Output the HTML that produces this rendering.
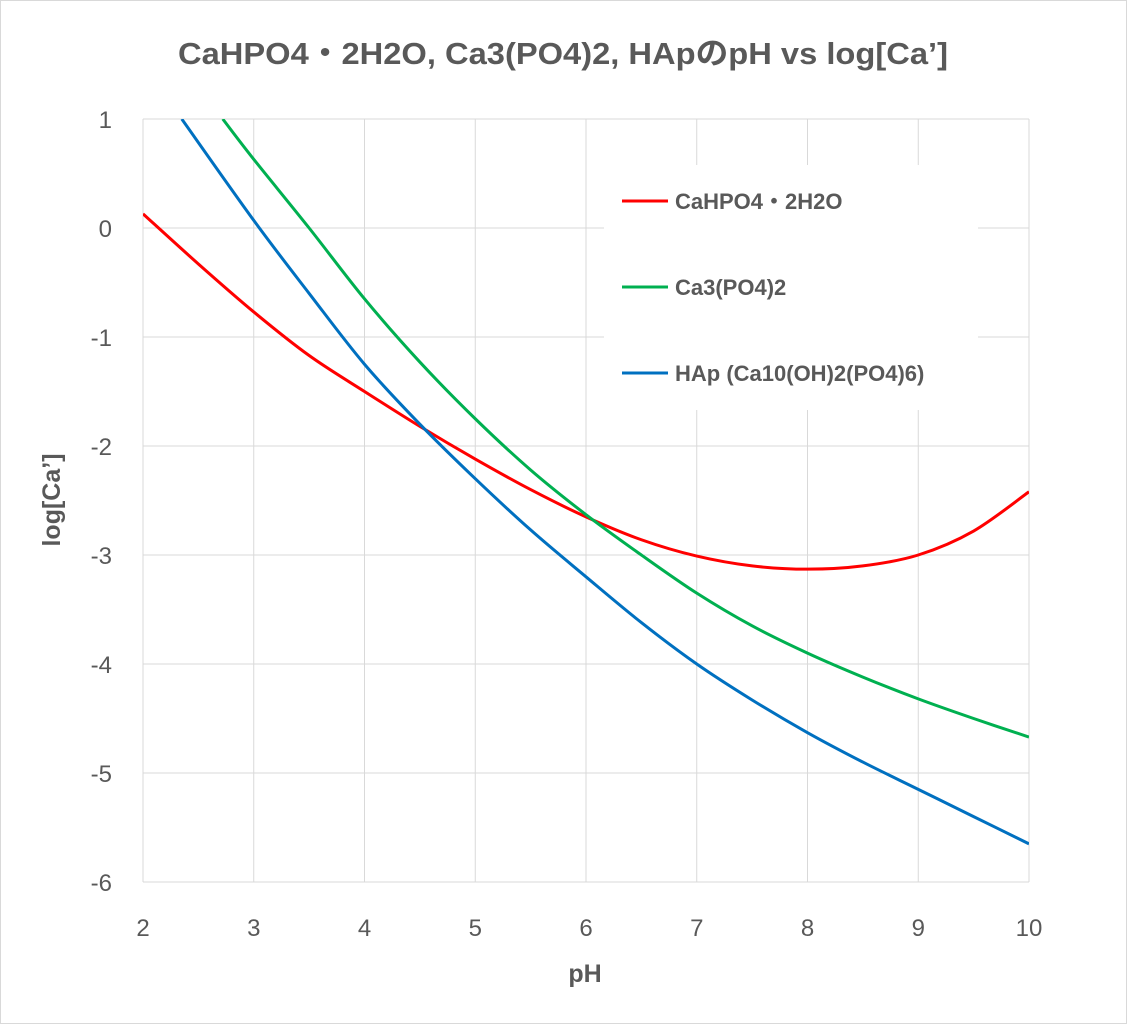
<!DOCTYPE html>
<html><head><meta charset="utf-8"><style>
body{margin:0;background:#fff;}
svg{display:block;font-family:"Liberation Sans","Noto Sans CJK JP",sans-serif;}
</style></head><body>
<svg id="c" width="1127" height="1024">
<rect x="0.5" y="0.5" width="1126" height="1023" fill="#fff" stroke="#d9d9d9"/>
<text x="563" y="64" text-anchor="middle" font-size="31" font-weight="bold" fill="#595959" textLength="770" lengthAdjust="spacingAndGlyphs">CaHPO4・2H2O, Ca3(PO4)2, HApのpH vs log[Ca’]</text>
<g id="grid"></g><g id="series"></g><g id="ticks"></g>
<text x="585" y="982" text-anchor="middle" font-size="25" font-weight="bold" fill="#595959">pH</text>
<text transform="translate(60,500) rotate(-90)" text-anchor="middle" font-size="25" font-weight="bold" fill="#595959">log[Ca’]</text>
<g id="legend"></g>
</svg>
<script>
const xTicks=[2,3,4,5,6,7,8,9,10];
const yTicks=[1,0,-1,-2,-3,-4,-5,-6];
const seriesNames=["CaHPO4・2H2O","Ca3(PO4)2","HAp (Ca10(OH)2(PO4)6)"];
const seriesColors=["#ff0000","#00b050","#0070c0"];
const redX=[2,2.5,3,3.5,4,4.5,5,5.5,6,6.5,7,7.5,8,8.5,9,9.5,10];
const redY=[0.13,-0.33,-0.77,-1.17,-1.5,-1.82,-2.12,-2.4,-2.65,-2.86,-3.01,-3.1,-3.13,-3.1,-3.0,-2.78,-2.42];
const greenX=[2.72,3,3.5,4,4.5,5,5.5,6,6.5,7,7.5,8,8.5,9,9.5,10];
const greenY=[1,0.63,0.0,-0.65,-1.23,-1.75,-2.22,-2.63,-3.0,-3.35,-3.65,-3.9,-4.12,-4.32,-4.5,-4.67];
const blueX=[2.35,3,3.5,4,4.5,5,5.5,6,6.5,7,7.5,8,8.5,9,9.5,10];
const blueY=[1,0.07,-0.6,-1.25,-1.8,-2.3,-2.77,-3.2,-3.62,-4.0,-4.33,-4.63,-4.9,-5.15,-5.4,-5.65];
const X0=143,X1=1029,Y0=119,Y1=882;
const sx=v=>X0+(v-2)/8*(X1-X0);
const sy=v=>Y0+(1-v)/7*(Y1-Y0);
const NS="http://www.w3.org/2000/svg";
function mk(t,a,p){const e=document.createElementNS(NS,t);for(const k in a)e.setAttribute(k,a[k]);p.appendChild(e);return e;}
const grid=document.getElementById('grid'),ticks=document.getElementById('ticks');
xTicks.forEach(v=>{
 const l=mk('line',{x1:sx(v),x2:sx(v),y1:Y0,y2:Y1,stroke:'#d9d9d9','stroke-width':1},grid);
 
 
 const t=mk('text',{x:sx(v),y:936,'text-anchor':'middle','font-size':24,fill:'#595959'},ticks);
 t.textContent=v;
 
 
});
yTicks.forEach(v=>{
 const l=mk('line',{x1:X0,x2:X1,y1:sy(v),y2:sy(v),stroke:'#d9d9d9','stroke-width':1},grid);
 
 
 const t=mk('text',{x:112,y:sy(v)+9,'text-anchor':'end','font-size':24,fill:'#595959'},ticks);
 t.textContent=v;
 
 
});
const ser=document.getElementById('series');
const cp=mk('clipPath',{id:'cl'},ser);mk('rect',{x:X0,y:Y0,width:X1-X0,height:Y1-Y0},cp);
function path(xs,ys){
 const p=xs.map((x,i)=>[sx(x),sy(ys[i])]);
 let d='M'+p[0][0]+','+p[0][1];
 for(let i=0;i<p.length-1;i++){
  const a=p[Math.max(0,i-1)],b=p[i],c=p[i+1],e=p[Math.min(p.length-1,i+2)];
  d+=' C'+(b[0]+(c[0]-a[0])/6)+','+(b[1]+(c[1]-a[1])/6)+' '+(c[0]-(e[0]-b[0])/6)+','+(c[1]-(e[1]-b[1])/6)+' '+c[0]+','+c[1];
 }
 return d;
}
[[redX,redY,'series-cahpo4'],[greenX,greenY,'series-ca3po42'],[blueX,blueY,'series-hap']].forEach((s,i)=>{
 const e=mk('path',{d:path(s[0],s[1]),fill:'none',stroke:seriesColors[i],'stroke-width':3,'clip-path':'url(#cl)'},ser);
 
 
});
const lg=document.getElementById('legend');
const bg=mk('rect',{x:604,y:165,width:374,height:245,fill:'#fff'},lg);


seriesNames.forEach((n,i)=>{
 const y=201+i*86;
 mk('line',{x1:622,x2:668,y1:y,y2:y,stroke:seriesColors[i],'stroke-width':3},lg);
 const t=mk('text',{x:675,y:y+8,'font-size':22,'font-weight':'bold',fill:'#595959'},lg);
 t.textContent=n;
 
 
});
</script>
</body></html>
